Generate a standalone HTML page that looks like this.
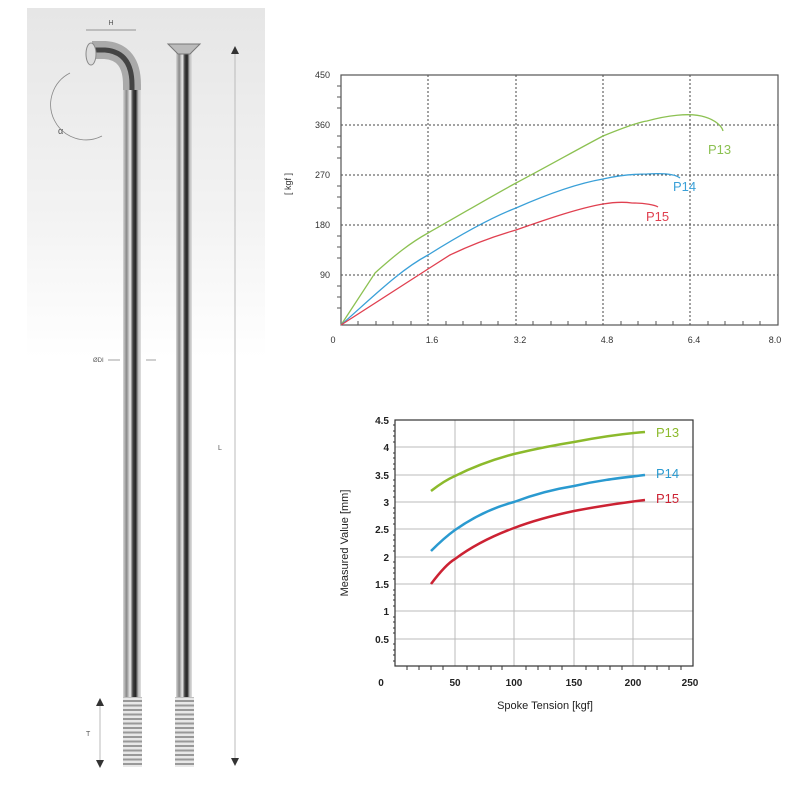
<!DOCTYPE html>
<html><head><meta charset="utf-8"><style>
html,body{margin:0;padding:0;background:#fff;}
svg{display:block;font-family:"Liberation Sans",sans-serif;}
</style></head><body>
<svg width="800" height="800" viewBox="0 0 800 800" xmlns="http://www.w3.org/2000/svg">
<defs>
<linearGradient id="bg" x1="0" y1="0" x2="0" y2="1">
<stop offset="0" stop-color="#e6e6e6"/><stop offset="0.6" stop-color="#f3f3f3"/><stop offset="1" stop-color="#fff"/>
</linearGradient>
<linearGradient id="rod" x1="0" y1="0" x2="1" y2="0">
<stop offset="0" stop-color="#d8d8d8"/><stop offset="0.2" stop-color="#888"/><stop offset="0.4" stop-color="#eee"/><stop offset="0.55" stop-color="#444"/><stop offset="0.7" stop-color="#222"/><stop offset="0.85" stop-color="#bbb"/><stop offset="1" stop-color="#e0e0e0"/>
</linearGradient>
<pattern id="thr" width="20" height="4.5" patternUnits="userSpaceOnUse">
<rect width="20" height="4.5" fill="#e8e8e8"/><rect y="2.5" width="20" height="2" fill="#999"/>
</pattern>
</defs>
<rect x="27" y="8" width="238" height="350" fill="url(#bg)"/>
<!-- H dimension -->
<line x1="86" y1="30" x2="136" y2="30" stroke="#777" stroke-width="0.8"/>
<text x="111" y="25" font-size="7" fill="#555" text-anchor="middle">H</text>
<!-- alpha arc -->
<path d="M70 73 A30 30 0 0 0 102 136" fill="none" stroke="#888" stroke-width="0.8"/>
<text x="58" y="134" font-size="9" fill="#555">α</text>
<!-- bent spoke -->
<path d="M132 700 L132 85 Q132 52 105 50 L92 50" fill="none" stroke="#aaa" stroke-width="18"/>
<path d="M132 700 L132 85 Q132 52 105 50 L92 50" fill="none" stroke="#444" stroke-width="5"/>
<rect x="123" y="90" width="18" height="608" fill="url(#rod)"/>
<ellipse cx="91" cy="54" rx="5" ry="11" fill="#ddd" stroke="#888"/>
<rect x="123" y="697" width="19" height="70" fill="url(#thr)"/>
<!-- straight spoke -->
<rect x="176" y="48" width="16" height="650" fill="url(#rod)"/>
<path d="M168 44 L200 44 L190 54 L178 54 Z" fill="#bbb" stroke="#777"/>
<rect x="175" y="697" width="19" height="70" fill="url(#thr)"/>
<!-- L arrow -->
<line x1="235" y1="52" x2="235" y2="762" stroke="#bbb" stroke-width="1"/>
<path d="M231 54 L235 46 L239 54Z M231 758 L235 766 L239 758Z" fill="#333"/>
<text x="218" y="450" font-size="7" fill="#555">L</text>
<!-- ØDI -->
<text x="93" y="362" font-size="6" fill="#555">ØDI</text>
<line x1="108" y1="360" x2="120" y2="360" stroke="#777" stroke-width="0.7"/>
<line x1="146" y1="360" x2="156" y2="360" stroke="#777" stroke-width="0.7"/>
<!-- T -->
<line x1="100" y1="704" x2="100" y2="761" stroke="#bbb"/>
<path d="M96 706 L100 698 L104 706Z M96 760 L100 768 L104 760Z" fill="#333"/>
<text x="86" y="736" font-size="7" fill="#555">T</text>

<!-- TOP CHART -->
<g stroke="#444" stroke-width="1" stroke-dasharray="2,2" fill="none">
<line x1="341" y1="125" x2="778" y2="125"/><line x1="341" y1="175" x2="778" y2="175"/>
<line x1="341" y1="225" x2="778" y2="225"/><line x1="341" y1="275" x2="778" y2="275"/>
<line x1="428" y1="75" x2="428" y2="325"/><line x1="516" y1="75" x2="516" y2="325"/>
<line x1="603" y1="75" x2="603" y2="325"/><line x1="690" y1="75" x2="690" y2="325"/>
</g>
<rect x="341" y="75" width="437" height="250" fill="none" stroke="#555" stroke-width="1.2"/>
<g stroke="#555" stroke-width="1">
<path d="M341 85v0 M337 86h4 M337 97h4 M337 108h4 M337 136h4 M337 147h4 M337 158h4 M337 186h4 M337 197h4 M337 208h4 M337 236h4 M337 247h4 M337 258h4 M337 286h4 M337 297h4 M337 308h4"/>
<path d="M358 325v-4 M376 325v-4 M393 325v-4 M411 325v-4 M446 325v-4 M463 325v-4 M481 325v-4 M498 325v-4 M533 325v-4 M551 325v-4 M568 325v-4 M586 325v-4 M621 325v-4 M638 325v-4 M656 325v-4 M673 325v-4 M708 325v-4 M725 325v-4 M743 325v-4 M760 325v-4"/>
</g>
<g font-size="9" fill="#333" text-anchor="end">
<text x="330" y="78">450</text><text x="330" y="128">360</text><text x="330" y="178">270</text><text x="330" y="228">180</text><text x="330" y="278">90</text>
</g>
<g font-size="9" fill="#333" text-anchor="middle">
<text x="333" y="343">0</text><text x="432" y="343">1.6</text><text x="520" y="343">3.2</text><text x="607" y="343">4.8</text><text x="694" y="343">6.4</text><text x="775" y="343">8.0</text>
</g>
<text x="0" y="0" font-size="9" fill="#333" transform="translate(291,184) rotate(-90)" text-anchor="middle">[ kgf ]</text>
<path d="M341 325 L375 273 C395 255 410 243 428 233 C460 215 490 197 516 183 C550 165 580 148 603 136 C625 127 640 122 647 121 C665 116 690 112 705 117 C715 120 722 126 723 131" fill="none" stroke="#8cc152" stroke-width="1.3"/>
<path d="M341 325 C375 295 400 270 428 255 C460 235 490 218 516 208 C550 193 580 183 603 179 C620 175 635 174 647 174 C662 173 675 174 680 178" fill="none" stroke="#3aa0d8" stroke-width="1.3"/>
<path d="M341 325 L428 269 L450 255 C475 243 495 236 516 230 C550 218 580 208 603 204 C615 202 625 202 632 203 C645 203 655 205 658 207" fill="none" stroke="#e04050" stroke-width="1.3"/>
<text x="708" y="154" font-size="13" fill="#8cc152">P13</text>
<text x="673" y="191" font-size="13" fill="#3aa0d8">P14</text>
<text x="646" y="221" font-size="13" fill="#e04050">P15</text>

<!-- BOTTOM CHART -->
<g stroke="#bbb" stroke-width="1">
<line x1="395" y1="447" x2="693" y2="447"/><line x1="395" y1="475" x2="693" y2="475"/><line x1="395" y1="502" x2="693" y2="502"/><line x1="395" y1="529" x2="693" y2="529"/><line x1="395" y1="557" x2="693" y2="557"/><line x1="395" y1="584" x2="693" y2="584"/><line x1="395" y1="611" x2="693" y2="611"/><line x1="395" y1="639" x2="693" y2="639"/>
<line x1="455" y1="420" x2="455" y2="666"/><line x1="514" y1="420" x2="514" y2="666"/><line x1="574" y1="420" x2="574" y2="666"/><line x1="633" y1="420" x2="633" y2="666"/>
</g>
<rect x="395" y="420" width="298" height="246" fill="none" stroke="#333" stroke-width="1.2"/>
<g stroke="#333" stroke-width="1">
<path d="M407 666v4 M419 666v4 M431 666v4 M443 666v4 M467 666v4 M479 666v4 M491 666v4 M502 666v4 M526 666v4 M538 666v4 M550 666v4 M562 666v4 M586 666v4 M598 666v4 M610 666v4 M622 666v4 M645 666v4 M657 666v4 M669 666v4 M681 666v4"/>
<path d="M393 425h2 M393 431h2 M393 436h2 M393 442h2 M393 453h2 M393 458h2 M393 464h2 M393 469h2 M393 480h2 M393 486h2 M393 491h2 M393 497h2 M393 508h2 M393 513h2 M393 518h2 M393 524h2 M393 535h2 M393 540h2 M393 546h2 M393 551h2 M393 562h2 M393 568h2 M393 573h2 M393 579h2 M393 590h2 M393 595h2 M393 600h2 M393 606h2 M393 617h2 M393 622h2 M393 628h2 M393 633h2 M393 644h2 M393 650h2 M393 655h2 M393 661h2"/>
</g>
<g font-size="10" font-weight="bold" fill="#222" text-anchor="end">
<text x="389" y="424">4.5</text><text x="389" y="451">4</text><text x="389" y="479">3.5</text><text x="389" y="506">3</text><text x="389" y="533">2.5</text><text x="389" y="561">2</text><text x="389" y="588">1.5</text><text x="389" y="615">1</text><text x="389" y="643">0.5</text>
</g>
<g font-size="10" font-weight="bold" fill="#222" text-anchor="middle">
<text x="381" y="686">0</text><text x="455" y="686">50</text><text x="514" y="686">100</text><text x="574" y="686">150</text><text x="633" y="686">200</text><text x="690" y="686">250</text>
</g>
<text x="545" y="709" font-size="11" fill="#222" text-anchor="middle">Spoke Tension [kgf]</text>
<text font-size="11" fill="#222" text-anchor="middle" transform="translate(348,543) rotate(-90)">Measured Value [mm]</text>
<path d="M431 491 C440 484 448 479 455 476 C475 466 495 459 514 454 C535 449 555 445 574 442 C600 437 620 434 645 432" fill="none" stroke="#8cba2c" stroke-width="2.5"/>
<path d="M431 551 C440 542 448 535 455 530 C475 516 495 507 514 502 C535 494 555 489 574 486 C600 480 620 478 645 475" fill="none" stroke="#2a9ad0" stroke-width="2.5"/>
<path d="M431 584 C440 572 448 563 455 559 C475 544 495 535 514 528 C535 520 555 515 574 511 C600 506 620 503 645 500" fill="none" stroke="#cc2233" stroke-width="2.5"/>
<text x="656" y="437" font-size="13" fill="#8cba2c">P13</text>
<text x="656" y="478" font-size="13" fill="#2a9ad0">P14</text>
<text x="656" y="503" font-size="13" fill="#cc2233">P15</text>
</svg>
</body></html>
